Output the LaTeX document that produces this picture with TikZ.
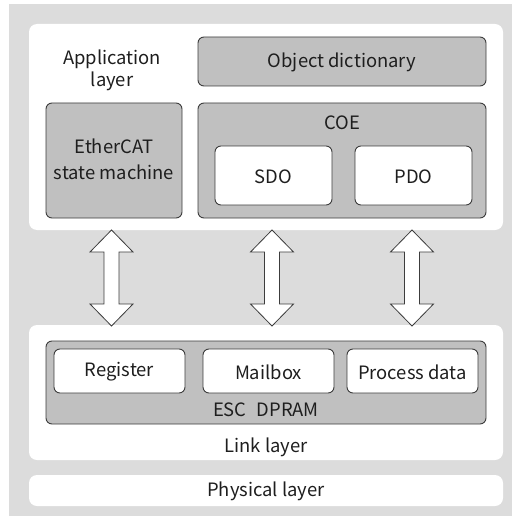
\documentclass[tikz,border=0pt]{standalone}
\usepackage{fontspec}
\setmainfont{Noto Sans CJK SC}
\usetikzlibrary{calc}
\definecolor{bggray}{HTML}{DCDCDC}
\definecolor{boxgray}{HTML}{C0C0C0}
\definecolor{edge}{HTML}{3C3C3C}
\definecolor{txt}{HTML}{1E1E1E}
\begin{document}
\begin{tikzpicture}[x=1pt,y=-1pt,
  every node/.style={inner sep=0pt,outer sep=0pt,text=txt,font=\fontsize{18.4}{22}\selectfont},
  layerbox/.style={fill=white,rounded corners=8pt,anchor=north west},
  graybox/.style={fill=boxgray,draw=edge,line width=0.9pt,rounded corners=6pt,anchor=north west},
  whitebox/.style={fill=white,draw=edge,line width=0.9pt,rounded corners=6pt,anchor=north west},
  label/.style={align=center}]
\useasboundingbox (0,0) rectangle (516,516);
\fill[bggray] (9,4) rectangle (512,516);
% application layer
\node[layerbox,minimum width=474pt,minimum height=206pt] (app) at (29,24) {};
\node[label,font=\fontsize{18.4}{22}\selectfont] (applbl) at (112,70) {Application\\layer};
\node[graybox,minimum width=288pt,minimum height=49pt] (od) at (198,37) {};
\node (odlbl) at ($(od.center)+(0,1)$) {Object dictionary};
\node[graybox,minimum width=136pt,minimum height=115pt] (esm) at (46,103) {};
\node[label,font=\fontsize{18.4}{25.5}\selectfont] (esmlbl) at ($(esm.center)+(0,-1)$) {EtherCAT\\state machine};
\node[graybox,minimum width=288pt,minimum height=115pt] (coe) at (198,103) {};
\node (coelbl) at (342,123) {COE};
\node[whitebox,minimum width=117pt,minimum height=59pt] (sdo) at (215,146) {};
\node (sdolbl) at ($(sdo.center)+(0,1)$) {SDO};
\node[whitebox,minimum width=117pt,minimum height=59pt] (pdo) at (355,146) {};
\node (pdolbl) at ($(pdo.center)+(0,1)$) {PDO};
% link layer
\node[layerbox,minimum width=474pt,minimum height=135pt] (link) at (29,325) {};
\node[graybox,minimum width=440pt,minimum height=83pt] (dpram) at (46,341) {};
\node[whitebox,minimum width=131pt,minimum height=44pt] (reg) at (54,349) {};
\node (reglbl) at ($(reg.center)+(0,1)$) {Register};
\node[whitebox,minimum width=131pt,minimum height=44pt] (mbx) at (203,349) {};
\node (mbxlbl) at ($(mbx.center)+(0,1)$) {Mailbox};
\node[whitebox,minimum width=131pt,minimum height=44pt] (pd) at (347,349) {};
\node (pdlbl) at ($(pd.center)+(0,1)$) {Process data};
\node (dpramlbl) at (266,410) {ESC\hspace{0.55em}DPRAM};
\node (linklbl) at (266,447) {Link layer};
% physical layer
\node[layerbox,minimum width=474pt,minimum height=31pt] (phys) at (29,475) {};
\node (physlbl) at ($(phys.center)+(0,1)$) {Physical layer};
% double arrows
\coordinate (a1t) at (111.5,230); \coordinate (a1b) at (111.5,326);
\coordinate (a2t) at (272,230);   \coordinate (a2b) at (272,326);
\coordinate (a3t) at (412,230);   \coordinate (a3b) at (412,326);
\foreach \t/\b in {a1t/a1b,a2t/a2b,a3t/a3b}{
  \draw[fill=white,draw=edge,line width=0.8pt,line join=miter]
    (\t) -- ($(\t)+(21.5,22)$) -- ($(\t)+(7.5,22)$) -- ($(\b)+(7.5,-22)$)
    -- ($(\b)+(21.5,-22)$) -- (\b) -- ($(\b)+(-21.5,-22)$) -- ($(\b)+(-7.5,-22)$)
    -- ($(\t)+(-7.5,22)$) -- ($(\t)+(-21.5,22)$) -- cycle;
}
\end{tikzpicture}
\end{document}
